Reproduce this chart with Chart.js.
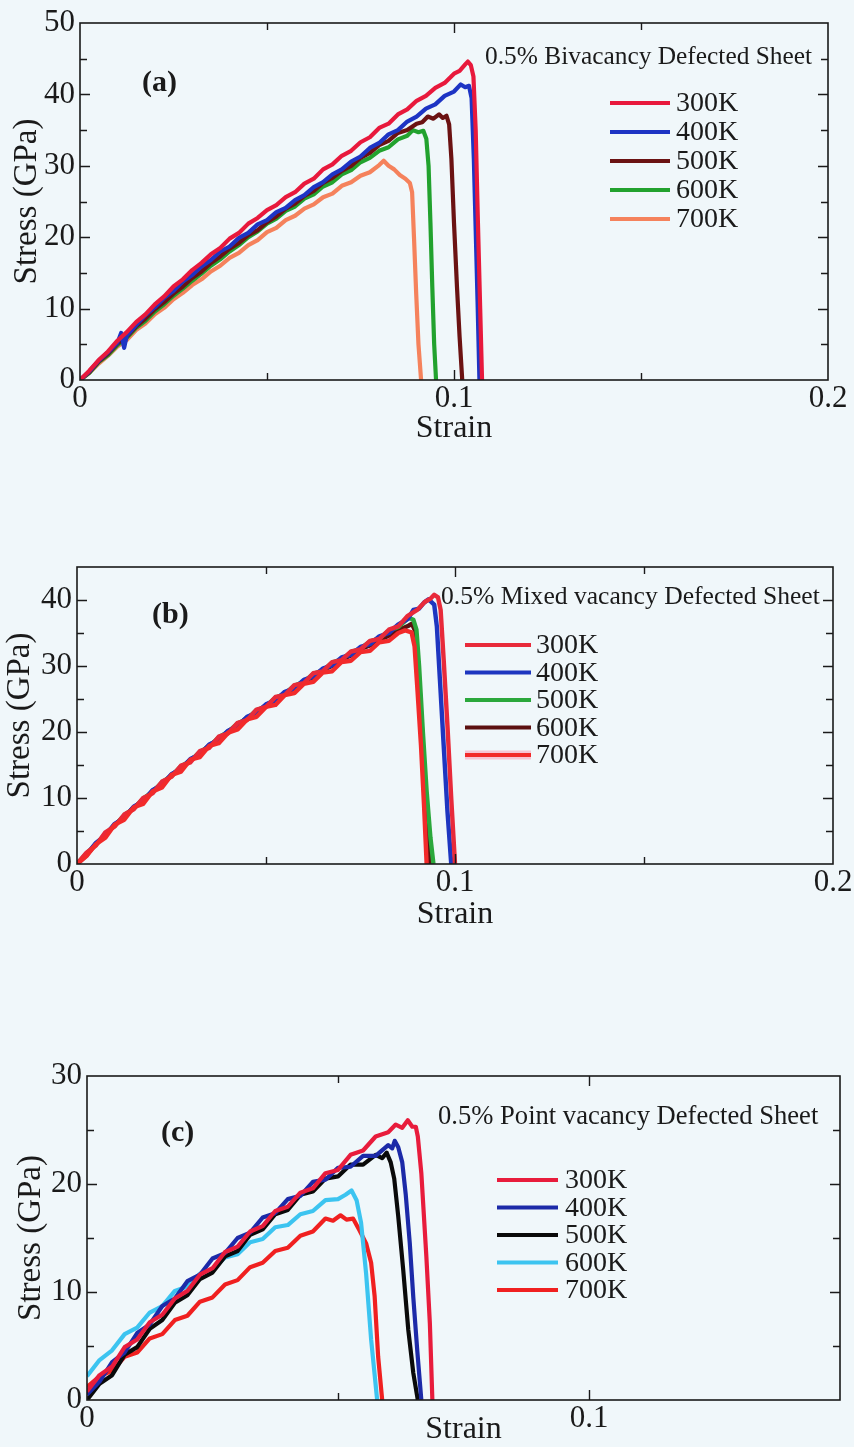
<!DOCTYPE html>
<html>
<head>
<meta charset="utf-8">
<script src="https://cdn.jsdelivr.net/npm/chart.js@4.4.1/dist/chart.umd.min.js"></script>
<style>
  html, body { margin: 0; padding: 0; width: 854px; height: 1447px; overflow: hidden; background: #f0f7fa; }
  canvas { position: absolute; left: 0; }
</style>
</head>
<body>
<canvas id="panelA" width="854" height="460" style="top:0px;width:854px;height:460px"></canvas>
<canvas id="panelB" width="854" height="480" style="top:460px;width:854px;height:480px"></canvas>
<canvas id="panelC" width="854" height="520" style="top:940px;width:854px;height:520px"></canvas>
<script>
// ---- Temperatures (legend entries, same for every panel) ----
const temperatures = ['300K', '400K', '500K', '600K', '700K'];

// ---- Tick labels ----
const strainLabelsAB = [0, 0.1, 0.2];
const strainLabelsC = [0, 0.1];
const stressLabelsA = [0, 10, 20, 30, 40, 50];
const stressLabelsB = [0, 10, 20, 30, 40];
const stressLabelsC = [0, 10, 20, 30];

// ---- (a) 0.5% bivacancy defected sheet: [strain, stress (GPa)] ----
const bivac300 = [[0,0],[0.0025,1.3],[0.005,2.8],[0.0075,4.0],[0.01,5.5],[0.0125,6.7],[0.015,8.1],[0.0175,9.2],[0.02,10.6],[0.0225,11.7],[0.025,13.1],[0.0275,14.1],[0.03,15.4],[0.0325,16.4],[0.035,17.6],[0.0375,18.5],[0.04,19.8],[0.0425,20.6],[0.045,21.9],[0.0475,22.7],[0.05,23.8],[0.0525,24.5],[0.055,25.6],[0.0575,26.3],[0.06,27.5],[0.0625,28.2],[0.065,29.5],[0.0675,30.2],[0.07,31.4],[0.0725,32.1],[0.075,33.3],[0.0775,34.0],[0.08,35.3],[0.0825,35.9],[0.085,37.2],[0.0875,37.9],[0.09,39.1],[0.0925,39.8],[0.095,40.9],[0.0975,41.6],[0.1,42.9],[0.1015,43.3],[0.103,44.2],[0.1037,44.6],[0.1045,44.1],[0.1052,42.5],[0.1058,35],[0.1064,22],[0.107,10],[0.1075,0]];
const bivac400 = [[0,0],[0.0025,1.2],[0.005,2.7],[0.0075,3.9],[0.01,5.2],[0.011,6.6],[0.0118,4.5],[0.0125,6.2],[0.015,7.7],[0.0175,9.1],[0.02,10.2],[0.0225,11.5],[0.025,12.5],[0.0275,13.8],[0.03,14.7],[0.0325,15.9],[0.035,16.8],[0.0375,18.0],[0.04,18.7],[0.0425,19.9],[0.045,20.6],[0.0475,21.8],[0.05,22.4],[0.0525,23.5],[0.055,24.1],[0.0575,25.2],[0.06,25.9],[0.0625,27.0],[0.065,27.7],[0.0675,28.8],[0.07,29.5],[0.0725,30.6],[0.075,31.3],[0.0775,32.5],[0.08,33.2],[0.0825,34.4],[0.085,35.0],[0.0875,36.2],[0.09,36.9],[0.0925,38.0],[0.095,38.6],[0.0975,39.8],[0.1,40.4],[0.1018,41.4],[0.103,41.0],[0.104,41.2],[0.1047,39.5],[0.1053,31],[0.1058,21],[0.1063,11],[0.1068,0]];
const bivac500 = [[0,0],[0.0025,1.1],[0.005,2.6],[0.0075,3.7],[0.01,5.1],[0.0125,6.1],[0.015,7.5],[0.0175,8.6],[0.02,9.9],[0.0225,10.9],[0.025,12.1],[0.0275,13.1],[0.03,14.3],[0.0325,15.2],[0.035,16.4],[0.0375,17.3],[0.04,18.4],[0.0425,19.2],[0.045,20.3],[0.0475,21.0],[0.05,22.1],[0.0525,22.9],[0.055,24.0],[0.0575,24.7],[0.06,25.8],[0.0625,26.5],[0.065,27.6],[0.0675,28.3],[0.07,29.3],[0.0725,30.0],[0.075,31.1],[0.0775,31.8],[0.08,32.9],[0.0825,33.5],[0.085,34.6],[0.0875,35.0],[0.09,35.9],[0.0915,36.1],[0.093,36.9],[0.0945,36.6],[0.096,37.2],[0.097,36.7],[0.098,37.0],[0.0987,35.8],[0.0993,31],[0.1,22],[0.1008,13],[0.1015,6],[0.1022,0]];
const bivac600 = [[0,0],[0.0025,1.0],[0.005,2.5],[0.0075,3.5],[0.01,4.9],[0.0125,5.9],[0.015,7.3],[0.0175,8.3],[0.02,9.6],[0.0225,10.6],[0.025,11.8],[0.0275,12.8],[0.03,13.9],[0.0325,14.9],[0.035,16.0],[0.0375,16.9],[0.04,18.0],[0.0425,18.9],[0.045,20.0],[0.0475,20.8],[0.05,21.9],[0.0525,22.6],[0.055,23.7],[0.0575,24.3],[0.06,25.4],[0.0625,26.0],[0.065,27.1],[0.0675,27.7],[0.07,28.8],[0.0725,29.4],[0.075,30.5],[0.0775,31.1],[0.08,32.1],[0.0825,32.6],[0.085,33.7],[0.0875,34.2],[0.089,35.0],[0.0905,34.7],[0.0918,34.9],[0.0926,33.8],[0.0932,30],[0.0937,22],[0.0942,13],[0.0947,5],[0.0952,0]];
const bivac700 = [[0,0],[0.0025,1.0],[0.005,2.3],[0.0075,3.4],[0.01,4.7],[0.0125,5.6],[0.015,7.0],[0.0175,7.9],[0.02,9.2],[0.0225,10.1],[0.025,11.3],[0.0275,12.2],[0.03,13.3],[0.0325,14.1],[0.035,15.2],[0.0375,16.0],[0.04,17.1],[0.0425,17.8],[0.045,18.9],[0.0475,19.6],[0.05,20.7],[0.0525,21.3],[0.055,22.4],[0.0575,23.0],[0.06,24.0],[0.0625,24.6],[0.065,25.6],[0.0675,26.1],[0.07,27.2],[0.0725,27.7],[0.075,28.6],[0.0775,29.1],[0.08,30.1],[0.0812,30.7],[0.0825,30.0],[0.084,29.5],[0.0855,28.7],[0.087,28.2],[0.0882,27.6],[0.0888,26.3],[0.0893,20],[0.0899,12],[0.0905,5],[0.0912,0]];

// ---- (b) 0.5% mixed vacancy defected sheet ----
const mixed300 = [[0,0],[0.0025,1.7],[0.005,2.8],[0.0075,4.8],[0.01,5.7],[0.0125,7.5],[0.015,8.3],[0.0175,10.0],[0.02,10.7],[0.0225,12.5],[0.025,13.2],[0.0275,14.9],[0.03,15.4],[0.0325,17.1],[0.035,17.6],[0.0375,19.3],[0.04,19.8],[0.0425,21.4],[0.045,21.8],[0.0475,23.4],[0.05,23.8],[0.0525,25.3],[0.055,25.6],[0.0575,27.1],[0.06,27.4],[0.0625,28.9],[0.065,29.2],[0.0675,30.6],[0.07,30.9],[0.0725,32.2],[0.075,32.5],[0.0775,33.8],[0.08,34.1],[0.0825,35.5],[0.085,36.0],[0.0875,37.6],[0.09,38.5],[0.092,39.7],[0.0935,40.2],[0.0945,40.8],[0.0955,40.4],[0.0962,38.5],[0.097,31],[0.098,21],[0.099,10],[0.1,0]];
const mixed400 = [[0,0],[0.0025,1.4],[0.005,3.2],[0.0075,4.3],[0.01,6.1],[0.0125,7.0],[0.015,8.7],[0.0175,9.5],[0.02,11.2],[0.0225,12.0],[0.025,13.6],[0.0275,14.4],[0.03,15.9],[0.0325,16.6],[0.035,18.1],[0.0375,18.8],[0.04,20.2],[0.0425,20.9],[0.045,22.3],[0.0475,22.9],[0.05,24.2],[0.0525,24.8],[0.055,26.1],[0.0575,26.6],[0.06,27.9],[0.0625,28.4],[0.065,29.6],[0.0675,30.1],[0.07,31.3],[0.0725,31.7],[0.075,32.9],[0.0775,33.3],[0.08,34.5],[0.0825,35.0],[0.085,36.3],[0.0875,37.1],[0.089,38.5],[0.0905,38.7],[0.0918,39.6],[0.093,40.1],[0.0945,39.3],[0.0952,36],[0.096,28],[0.097,18],[0.098,8],[0.099,0]];
const mixed500 = [[0,0],[0.0025,1.6],[0.005,2.9],[0.0075,4.6],[0.01,5.8],[0.0125,7.4],[0.015,8.4],[0.0175,9.9],[0.02,10.9],[0.0225,12.4],[0.025,13.3],[0.0275,14.8],[0.03,15.6],[0.0325,17.0],[0.035,17.8],[0.0375,19.2],[0.04,20.0],[0.0425,21.3],[0.045,22.0],[0.0475,23.3],[0.05,23.9],[0.0525,25.2],[0.055,25.8],[0.0575,27.0],[0.06,27.6],[0.0625,28.8],[0.065,29.3],[0.0675,30.5],[0.07,31.0],[0.0725,32.1],[0.075,32.6],[0.0775,33.7],[0.08,34.2],[0.0825,35.3],[0.085,35.9],[0.0877,37.3],[0.089,37.0],[0.0898,35.5],[0.0905,30],[0.0915,20],[0.0925,11],[0.0935,4],[0.0943,0]];
const mixed600 = [[0,0],[0.0025,1.3],[0.005,3.1],[0.0075,4.4],[0.01,6.0],[0.0125,7.1],[0.015,8.6],[0.0175,9.6],[0.02,11.1],[0.0225,12.1],[0.025,13.5],[0.0275,14.5],[0.03,15.8],[0.0325,16.7],[0.035,18.0],[0.0375,18.9],[0.04,20.1],[0.0425,21.0],[0.045,22.2],[0.0475,22.9],[0.05,24.1],[0.0525,24.8],[0.055,25.9],[0.0575,26.6],[0.06,27.7],[0.0625,28.3],[0.065,29.4],[0.0675,30.0],[0.07,31.0],[0.0725,31.6],[0.075,32.6],[0.0775,33.1],[0.08,34.0],[0.0825,34.6],[0.085,35.4],[0.0877,36.1],[0.0886,36.4],[0.0895,35.3],[0.09,32],[0.0908,25],[0.0918,15],[0.0927,6],[0.0934,0]];
const mixed700 = [[0,0],[0.0025,1.2],[0.005,3.0],[0.0075,4.0],[0.01,6.0],[0.0125,6.7],[0.015,8.6],[0.0175,9.1],[0.02,11.0],[0.0225,11.6],[0.025,13.5],[0.0275,14.0],[0.03,15.8],[0.0325,16.2],[0.035,17.9],[0.0375,18.3],[0.04,19.9],[0.0425,20.4],[0.045,21.9],[0.0475,22.3],[0.05,23.8],[0.0525,24.1],[0.055,25.6],[0.0575,25.9],[0.06,27.3],[0.0625,27.6],[0.065,29.0],[0.0675,29.2],[0.07,30.6],[0.0725,30.8],[0.075,32.1],[0.0775,32.3],[0.08,33.6],[0.0825,33.8],[0.085,35.0],[0.0868,35.4],[0.0885,35.1],[0.0893,33],[0.09,27],[0.091,18],[0.0918,9],[0.0925,0]];

// ---- (c) 0.5% point vacancy defected sheet ----
const point300 = [[0,0.8],[0.0025,2.3],[0.005,3.1],[0.0075,4.9],[0.01,5.6],[0.0125,7.2],[0.015,7.9],[0.0175,9.4],[0.02,10.1],[0.0225,11.6],[0.025,12.2],[0.0275,13.7],[0.03,14.2],[0.0325,15.6],[0.035,16.1],[0.0375,17.5],[0.04,17.9],[0.0425,19.2],[0.045,19.6],[0.0475,21.0],[0.05,21.3],[0.0525,22.7],[0.055,23.1],[0.0575,24.4],[0.06,24.8],[0.0615,25.5],[0.0628,25.2],[0.0639,25.9],[0.0648,25.3],[0.0655,25.3],[0.0659,24.4],[0.0666,21],[0.0676,13.3],[0.0683,7.1],[0.0688,0]];
const point400 = [[0,0.5],[0.0025,1.7],[0.005,3.5],[0.0075,4.4],[0.01,6.2],[0.0125,7.0],[0.015,8.7],[0.0175,9.4],[0.02,11.0],[0.0225,11.6],[0.025,13.1],[0.0275,13.6],[0.03,15.0],[0.0325,15.5],[0.035,16.9],[0.0375,17.3],[0.04,18.6],[0.0425,18.9],[0.045,20.2],[0.0475,20.4],[0.05,21.5],[0.0525,21.6],[0.055,22.6],[0.0575,22.6],[0.06,23.6],[0.0608,23.3],[0.0613,24.0],[0.062,23.4],[0.0628,22.0],[0.0635,19],[0.0643,14.5],[0.065,9.5],[0.0658,4.5],[0.0666,0]];
const point500 = [[0,0],[0.0025,1.5],[0.005,2.3],[0.0075,4.2],[0.01,4.9],[0.0125,6.6],[0.015,7.4],[0.0175,9.0],[0.02,9.7],[0.0225,11.2],[0.025,11.8],[0.0275,13.3],[0.03,13.8],[0.0325,15.3],[0.035,15.8],[0.0375,17.2],[0.04,17.6],[0.0425,19.0],[0.045,19.3],[0.0475,20.5],[0.05,20.7],[0.0525,21.8],[0.055,21.8],[0.0575,22.7],[0.0588,22.4],[0.0597,22.9],[0.0605,22.0],[0.0612,20.5],[0.062,17],[0.063,12],[0.064,6.5],[0.065,2.5],[0.0659,0]];
const point600 = [[0,2.2],[0.0025,3.7],[0.005,4.6],[0.0075,6.1],[0.01,6.7],[0.0125,8.1],[0.015,8.7],[0.0175,10.1],[0.02,10.5],[0.0225,11.7],[0.025,12.1],[0.0275,13.2],[0.03,13.5],[0.0325,14.6],[0.035,14.9],[0.0375,16.0],[0.04,16.2],[0.0425,17.2],[0.045,17.5],[0.0475,18.5],[0.05,18.6],[0.0515,19.0],[0.0527,19.4],[0.0537,18.5],[0.0546,16.4],[0.0556,11.7],[0.0566,5.6],[0.0578,0]];
const point700 = [[0,1.2],[0.0025,2.2],[0.005,2.7],[0.0075,4.0],[0.01,4.4],[0.0125,5.7],[0.015,6.1],[0.0175,7.4],[0.02,7.8],[0.0225,9.1],[0.025,9.5],[0.0275,10.7],[0.03,11.1],[0.0325,12.3],[0.035,12.7],[0.0375,13.8],[0.04,14.1],[0.0425,15.2],[0.045,15.6],[0.0475,16.8],[0.049,16.6],[0.0505,17.1],[0.0517,16.7],[0.053,16.8],[0.0543,15.7],[0.0556,14.5],[0.0566,12.7],[0.0573,9.6],[0.058,4],[0.0588,0]];

// ---- Shared styling ----
const SERIF = 'Liberation Serif';
const INK = '#1a1a1a';

// Closed frame with inward tick marks on all four sides
const frameTicks = {
  id: 'frameTicks',
  afterDatasetsDraw(chart) {
    const { ctx, chartArea: a, scales: { x, y } } = chart;
    ctx.save();
    ctx.strokeStyle = INK;
    ctx.lineWidth = 1.6;
    ctx.strokeRect(a.left, a.top, a.right - a.left, a.bottom - a.top);
    ctx.lineWidth = 1.4;
    ctx.beginPath();
    y.ticks.forEach(t => {
      if (t.value <= y.min || t.value >= y.max) return;
      const py = Math.round(y.getPixelForValue(t.value)) + 0.5;
      const len = t.label !== '' ? 10 : 7;
      ctx.moveTo(a.left, py); ctx.lineTo(a.left + len, py);
      ctx.moveTo(a.right, py); ctx.lineTo(a.right - len, py);
    });
    x.ticks.forEach(t => {
      if (t.value <= x.min || t.value >= x.max) return;
      const px = Math.round(x.getPixelForValue(t.value)) + 0.5;
      const len = t.label !== '' ? 10 : 7;
      ctx.moveTo(px, a.bottom); ctx.lineTo(px, a.bottom - len);
      ctx.moveTo(px, a.top); ctx.lineTo(px, a.top + len);
    });
    ctx.stroke();
    ctx.restore();
  }
};

// Legend drawn inside the plot from the dataset labels and colours
function insideLegend(x1, x2, textX, top, gap) {
  return {
    id: 'insideLegend',
    afterDraw(chart) {
      const ctx = chart.ctx;
      ctx.save();
      ctx.font = `28px "${SERIF}"`;
      ctx.textBaseline = 'middle';
      ctx.textAlign = 'left';
      ctx.fillStyle = INK;
      chart.data.datasets.forEach((ds, i) => {
        const yy = top + i * gap;
        if (ds.legendHalo) {
          ctx.strokeStyle = ds.legendHalo;
          ctx.lineWidth = 9;
          ctx.beginPath();
          ctx.moveTo(x1, yy); ctx.lineTo(x2, yy);
          ctx.stroke();
        }
        ctx.strokeStyle = ds.borderColor;
        ctx.lineWidth = 4;
        ctx.beginPath();
        ctx.moveTo(x1, yy); ctx.lineTo(x2, yy);
        ctx.stroke();
        ctx.fillText(ds.label, textX, yy + 1);
      });
      ctx.restore();
    }
  };
}

// Panel letter and sheet description
function panelText(items) {
  return {
    id: 'panelText',
    afterDraw(chart) {
      const ctx = chart.ctx;
      ctx.save();
      ctx.fillStyle = INK;
      ctx.textBaseline = 'middle';
      ctx.textAlign = 'left';
      items.forEach(it => {
        ctx.font = it.font;
        ctx.fillText(it.text, it.x, it.y);
      });
      ctx.restore();
    }
  };
}

function makePanel(id, series, colors, cfg) {
  const datasets = series.map((data, i) => ({
    label: temperatures[i],
    data,
    borderColor: colors[i],
    backgroundColor: colors[i],
    borderWidth: cfg.lineWidth,
    borderJoinStyle: 'round',
    pointRadius: 0,
    tension: 0,
    fill: false,
    order: cfg.order ? cfg.order[i] : i,
    legendHalo: cfg.halo ? cfg.halo[i] : null
  }));
  const near = (v, list) => list.some(l => Math.abs(l - v) < 1e-9);
  return new Chart(document.getElementById(id), {
    type: 'line',
    data: { datasets },
    options: {
      responsive: false,
      animation: false,
      devicePixelRatio: 1,
      layout: { padding: cfg.padding },
      plugins: { legend: { display: false }, tooltip: { enabled: false } },
      scales: {
        x: {
          type: 'linear', min: 0, max: cfg.xMax,
          grid: { display: false, drawTicks: false },
          border: { display: false },
          ticks: {
            stepSize: 0.05, autoSkip: false, maxRotation: 0, minRotation: 0, padding: 0,
            color: INK, font: { family: SERIF, size: 31 },
            callback: v => near(v, cfg.xLabels) ? String(Number(v.toFixed(2))) : ''
          },
          title: { display: true, text: 'Strain', color: INK, font: { family: SERIF, size: 32 }, padding: { top: 0, bottom: 0 } },
          afterFit: s => { s.height = cfg.xHeight; s.paddingLeft = 0; s.paddingRight = 0; }
        },
        y: {
          type: 'linear', min: 0, max: cfg.yMax,
          grid: { display: false, drawTicks: false },
          border: { display: false },
          ticks: {
            stepSize: 5, autoSkip: false, padding: 5,
            color: INK, font: { family: SERIF, size: 31 },
            callback: v => near(v, cfg.yLabels) ? String(v) : ''
          },
          title: { display: true, text: 'Stress (GPa)', color: INK, font: { family: SERIF, size: 33 }, padding: { top: cfg.yTitlePad, bottom: 0 } },
          afterFit: s => { s.width = cfg.yWidth; s.paddingTop = 0; s.paddingBottom = 0; }
        }
      }
    },
    plugins: [frameTicks, insideLegend(...cfg.legend), panelText(cfg.texts)]
  });
}

makePanel('panelA',
  [bivac300, bivac400, bivac500, bivac600, bivac700],
  ['#e8193c', '#1d34c4', '#6b1212', '#22a22e', '#f5825c'],
  {
    xMax: 0.2, yMax: 50, xLabels: strainLabelsAB, yLabels: stressLabelsA,
    padding: { top: 23, right: 26, bottom: 12, left: 0 },
    yWidth: 80, xHeight: 68, yTitlePad: 8, lineWidth: 4.2,
    legend: [610, 670, 676, 103, 29],
    texts: [
      { text: '(a)', x: 142, y: 83, font: `bold 30px "${SERIF}"` },
      { text: '0.5% Bivacancy Defected Sheet', x: 485, y: 57, font: `25.4px "${SERIF}"` }
    ]
  });

makePanel('panelB',
  [mixed300, mixed400, mixed500, mixed600, mixed700],
  ['#e82a3a', '#1e36c0', '#2ba83c', '#5c1010', '#f22a2a'],
  {
    xMax: 0.2, yMax: 45, xLabels: strainLabelsAB, yLabels: stressLabelsB,
    padding: { top: 107, right: 21, bottom: 6, left: 0 },
    yWidth: 77, xHeight: 70, yTitlePad: 1, lineWidth: 4.4,
    order: [1, 2, 3, 4, 0],
    halo: [null, null, null, null, '#f6c4d4'],
    legend: [465, 531, 536, 185, 27.5],
    texts: [
      { text: '(b)', x: 152, y: 155, font: `bold 30px "${SERIF}"` },
      { text: '0.5% Mixed vacancy Defected Sheet', x: 441, y: 137, font: `25.6px "${SERIF}"` }
    ]
  });

makePanel('panelC',
  [point300, point400, point500, point600, point700],
  ['#e81c3c', '#1c2aa8', '#0a0a0a', '#3cc4f0', '#f02020'],
  {
    xMax: 0.15, yMax: 30, xLabels: strainLabelsC, yLabels: stressLabelsC,
    padding: { top: 136, right: 14, bottom: 11, left: 0 },
    yWidth: 87, xHeight: 49, yTitlePad: 12, lineWidth: 4.2,
    legend: [497, 558, 565, 240, 27.5],
    texts: [
      { text: '(c)', x: 161, y: 193, font: `bold 30px "${SERIF}"` },
      { text: '0.5% Point vacancy Defected Sheet', x: 438, y: 177, font: `26.6px "${SERIF}"` }
    ]
  });
</script>
</body>
</html>
